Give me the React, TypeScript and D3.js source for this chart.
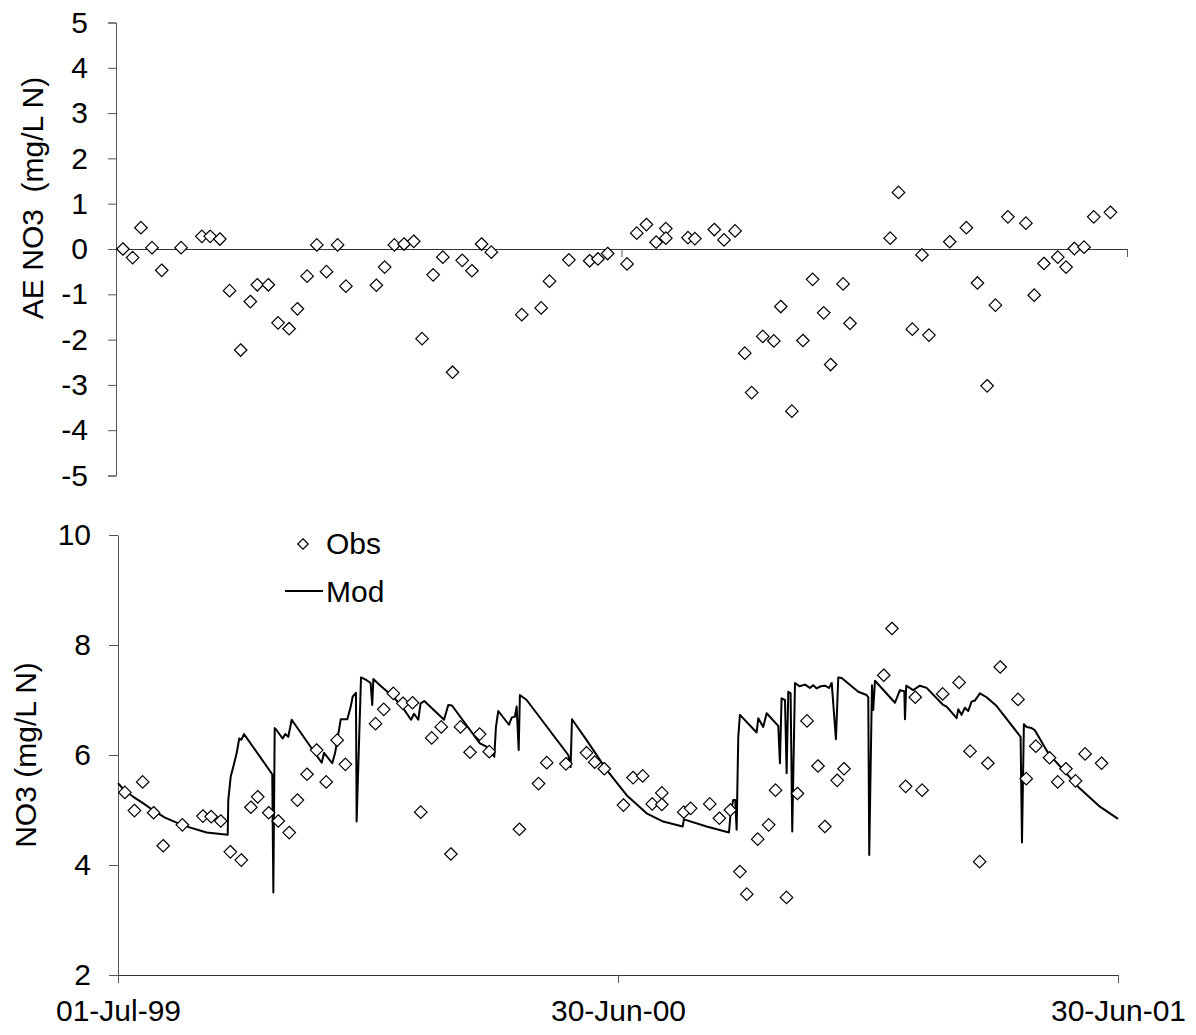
import React, { useRef, useEffect } from 'react';
import * as d3 from 'd3';

// observation dates, as days after 01-Jul-99
const OBS_DAY = [
  5, 12, 18, 26, 33, 47, 62, 68, 75, 82, 90, 97, 102, 110, 117, 125, 131, 138, 145, 152,
  160, 166, 188, 194, 201, 208, 215, 221, 229, 236, 243, 250, 257, 264, 271, 293, 307, 313, 327, 342,
  348, 355, 369, 376, 383, 390, 397, 397, 413, 418, 432, 439, 447, 454, 459, 467, 475, 480, 488, 496,
  503, 511, 516, 525, 530, 559, 565, 575, 582, 587, 602, 614, 622, 629, 635, 644, 657, 663, 670, 680,
  686, 692, 699, 706, 718,
];

// observed NO3 (mg/L N)
const OBS = [
  5.32, 4.99, 5.51, 4.95, 4.35, 4.73, 4.89, 4.88, 4.80, 4.24, 4.09, 5.05, 5.24, 4.95, 4.80, 4.59, 5.18, 5.65, 6.09, 5.51,
  6.27, 5.83, 6.57, 6.83, 7.12, 6.94, 6.95, 4.96, 6.31, 6.51, 4.20, 6.51, 6.05, 6.38, 6.06, 4.65, 5.48, 5.86, 5.84, 6.04,
  5.87, 5.75, 5.09, 5.59, 5.62, 5.11, 5.31, 5.10, 4.96, 5.03, 5.11, 4.85, 5.00, 3.88, 3.47, 4.47, 4.73, 5.36, 3.41, 5.30,
  6.62, 5.80, 4.70, 5.54, 5.75, 7.45, 8.30, 5.43, 7.05, 5.36, 7.11, 7.32, 6.07, 4.06, 5.85, 7.60, 7.01, 5.57, 6.16, 5.95,
  5.51, 5.75, 5.53, 6.02, 5.85,
];

// absolute error (obs - mod)
const AE = [
  0.00, -0.19, 0.47, 0.03, -0.47, 0.03, 0.28, 0.28, 0.22, -0.92, -2.23, -1.16, -0.79, -0.79, -1.63, -1.76, -1.32, -0.60, 0.09, -0.50,
  0.09, -0.82, -0.80, -0.40, 0.09, 0.11, 0.17, -1.98, -0.57, -0.18, -2.72, -0.25, -0.48, 0.11, -0.07, -1.45, -1.30, -0.71, -0.24, -0.26,
  -0.22, -0.10, -0.33, 0.35, 0.54, 0.15, 0.45, 0.24, 0.25, 0.23, 0.43, 0.20, 0.40, -2.30, -3.17, -1.93, -2.03, -1.27, -3.58, -2.02,
  -0.67, -1.41, -2.55, -0.77, -1.64, 0.24, 1.25, -1.77, -0.13, -1.90, 0.16, 0.47, -0.75, -3.02, -1.24, 0.71, 0.57, -1.02, -0.32, -0.18,
  -0.40, 0.01, 0.04, 0.71, 0.81,
];

// modelled NO3 vertices
const MOD_DAY = [
  0, 4.9, 11.2, 18.5, 25.9, 34.3, 47.4, 64.7, 80.1, 80.5, 82.3, 84.2, 86.6, 88.5, 90.1, 92,
  112.6, 113.4, 114.4, 115.8, 120.2, 122.1, 124.3, 126.8, 148.7, 150.4, 156.4, 158.4, 160.1, 162.6, 167.4, 169.9,
  171.3, 173.7, 174.2, 177.4, 181.5, 184.4, 185.6, 186.4, 191.2, 200.9, 208.2, 213.9, 216.1, 219.2, 220.9, 223.6,
  236.3, 238, 241.1, 243.8, 264.2, 269.1, 274.7, 275.9, 277.6, 285.4, 287.4, 289.8, 291, 292.5, 293.4, 298.3,
  328.7, 330.4, 331.4, 342.1, 356.7, 371.3, 385.9, 398, 412.2, 413.1, 429.7, 446, 447.2, 449.1, 450.6, 451.6,
  452.8, 454, 466.2, 467.4, 471, 473.5, 482, 483.2, 484.4, 486.9, 488.1, 489.3, 491, 492.2, 494.2, 497.5,
  501.5, 505.1, 507.5, 510, 513, 516.1, 519, 521, 524.1, 525.8, 528.3, 540.4, 546.5, 547.7, 548.4, 550.4,
  551.3, 552.6, 567.2, 570.8, 574, 574.5, 575.4, 580.5, 585.4, 590.3, 602.4, 604.9, 612.2, 613.4, 615.8, 618.2,
  620.7, 623.1, 625.5, 629.2, 634.1, 641.4, 651.1, 658.9, 659.9, 661.3, 663.3, 666.9, 669.3, 679.1, 690, 702.2,
  716.8, 730,
];
const MOD = [
  5.49, 5.35, 5.24, 5.12, 4.99, 4.86, 4.72, 4.59, 4.55, 5.18, 5.61, 5.79, 6.03, 6.30, 6.28, 6.38,
  5.65, 3.50, 6.49, 6.45, 6.30, 6.38, 6.33, 6.64, 5.86, 6.04, 5.85, 6.03, 6.27, 6.65, 6.65, 6.88,
  7.06, 7.13, 4.79, 7.41, 7.36, 7.31, 6.91, 7.38, 7.27, 7.06, 6.85, 6.64, 6.75, 6.64, 6.94, 6.98,
  6.68, 6.64, 6.91, 6.90, 6.21, 6.15, 5.97, 6.51, 6.80, 6.55, 6.68, 6.70, 6.88, 6.09, 7.09, 7.00,
  6.00, 5.78, 6.65, 6.27, 5.73, 5.27, 4.94, 4.79, 4.70, 4.83, 4.70, 4.59, 4.94, 5.18, 5.18, 4.64,
  6.33, 6.73, 6.41, 6.67, 6.51, 6.76, 6.53, 5.85, 7.03, 7.00, 5.67, 7.15, 7.12, 4.61, 7.31, 7.25,
  7.28, 7.22, 7.27, 7.21, 7.25, 7.26, 7.22, 7.31, 6.29, 7.41, 7.40, 7.15, 7.09, 7.05, 4.18, 7.27,
  6.82, 7.35, 6.95, 7.18, 7.16, 6.65, 7.26, 7.18, 7.26, 7.22, 6.91, 6.88, 6.67, 6.83, 6.73, 6.86,
  6.80, 6.97, 6.99, 7.12, 7.05, 6.89, 6.58, 6.33, 4.41, 6.56, 6.51, 6.49, 6.45, 6.03, 5.73, 5.39,
  5.06, 4.84,
];

const AE_TICKS = [-5, -4, -3, -2, -1, 0, 1, 2, 3, 4, 5];
const NO3_TICKS = [2, 4, 6, 8, 10];
const DATE_TICKS = ['1999-07-01', '2000-06-30', '2001-06-30'];

const FONT = '"Liberation Sans", Arial, sans-serif';
const FS = '30px';
const AXIS = '#555';

export default function App() {
  const ref = useRef<SVGSVGElement | null>(null);

  useEffect(() => {
    const svg = d3.select(ref.current);
    svg.selectAll('*').remove();

    const start = new Date(Date.UTC(1999, 6, 1));
    const day = (d: number) => new Date(start.getTime() + d * 864e5);
    const tickDates = DATE_TICKS.map(s => new Date(s + 'T00:00:00Z'));
    const fmt = d3.utcFormat('%d-%b-%y');

    const diamond = d3.symbol().type(d3.symbolDiamond2).size(100);

    // ── Top panel: AE NO3 ───────────────────────────────────────────
    const xTop = d3.scaleUtc().domain([start, tickDates[2]]).range([116, 1127]);
    const yTop = d3.scaleLinear().domain([-5, 5]).range([475.5, 22.5]);

    const gTop = svg.append('g');

    gTop.append('g')
      .attr('transform', `translate(116,0)`)
      .call(d3.axisLeft(yTop).tickValues(AE_TICKS).tickSize(8).tickPadding(20).tickFormat(d => String(d)))
      .call(ax => ax.select('.domain').attr('stroke', AXIS))
      .call(ax => ax.selectAll('.tick line').attr('stroke', AXIS))
      .call(ax => ax.selectAll('.tick text')
        .attr('fill', '#000').attr('font-size', FS).attr('font-family', FONT));

    gTop.append('g')
      .attr('transform', `translate(0,${yTop(0)})`)
      .call(d3.axisBottom(xTop).tickValues(tickDates).tickSize(8).tickSizeOuter(0).tickFormat(() => ''))
      .call(ax => ax.select('.domain').attr('stroke', '#333'))
      .call(ax => ax.selectAll('.tick line').attr('stroke', AXIS));

    gTop.append('text')
      .attr('transform', `translate(32,198) rotate(-90)`)
      .attr('text-anchor', 'middle')
      .attr('dominant-baseline', 'central')
      .attr('font-size', FS)
      .attr('font-family', FONT)
      .style('white-space', 'pre')
      .text('AE NO3  (mg/L N)');

    gTop.selectAll('path.ae')
      .data(OBS_DAY.map((d, i) => [d, AE[i]]))
      .join('path')
      .attr('class', 'ae')
      .attr('d', diamond)
      .attr('transform', d => `translate(${xTop(day(d[0]))},${yTop(d[1])})`)
      .attr('fill', '#fff')
      .attr('stroke', '#000')
      .attr('stroke-width', 1.2);

    // ── Bottom panel: NO3 ───────────────────────────────────────────
    const xBot = d3.scaleUtc().domain([start, tickDates[2]]).range([118, 1118]);
    const yBot = d3.scaleLinear().domain([2, 10]).range([975, 535]);

    const gBot = svg.append('g');

    gBot.append('g')
      .attr('transform', `translate(118,0)`)
      .call(d3.axisLeft(yBot).tickValues(NO3_TICKS).tickSize(9).tickPadding(18).tickSizeOuter(0))
      .call(ax => ax.select('.domain').attr('stroke', AXIS))
      .call(ax => ax.selectAll('.tick line').attr('stroke', AXIS))
      .call(ax => ax.selectAll('.tick text')
        .attr('fill', '#000').attr('font-size', FS).attr('font-family', FONT));

    gBot.append('g')
      .attr('transform', `translate(0,975)`)
      .call(d3.axisBottom(xBot).tickValues(tickDates).tickSize(8).tickSizeOuter(0).tickPadding(17).tickFormat(d => fmt(d as Date)))
      .call(ax => ax.select('.domain').attr('stroke', '#333'))
      .call(ax => ax.selectAll('.tick line').attr('stroke', AXIS))
      .call(ax => ax.selectAll('.tick text')
        .attr('fill', '#000').attr('font-size', FS).attr('font-family', FONT));

    gBot.append('text')
      .attr('transform', `translate(25,755) rotate(-90)`)
      .attr('text-anchor', 'middle')
      .attr('dominant-baseline', 'central')
      .attr('font-size', FS)
      .attr('font-family', FONT)
      .text('NO3 (mg/L N)');

    const line = d3.line<number>()
      .x((d, i) => xBot(day(MOD_DAY[i])))
      .y(d => yBot(d));

    gBot.append('path')
      .datum(MOD)
      .attr('d', line)
      .attr('fill', 'none')
      .attr('stroke', '#000')
      .attr('stroke-width', 2)
      .attr('stroke-linejoin', 'round');

    gBot.selectAll('path.obs')
      .data(OBS_DAY.map((d, i) => [d, OBS[i]]))
      .join('path')
      .attr('class', 'obs')
      .attr('d', diamond)
      .attr('transform', d => `translate(${xBot(day(d[0]))},${yBot(d[1])})`)
      .attr('fill', '#fff')
      .attr('stroke', '#000')
      .attr('stroke-width', 1.2);

    // ── Legend ──────────────────────────────────────────────────────
    const lg = svg.append('g');
    lg.append('path')
      .attr('d', d3.symbol().type(d3.symbolDiamond2).size(70))
      .attr('transform', 'translate(303,544)')
      .attr('fill', '#fff').attr('stroke', '#000').attr('stroke-width', 1.2);
    lg.append('text')
      .attr('x', 326).attr('y', 543)
      .attr('dominant-baseline', 'central')
      .attr('font-size', FS).attr('font-family', FONT)
      .text('Obs');
    lg.append('line')
      .attr('x1', 285).attr('x2', 323).attr('y1', 591).attr('y2', 591)
      .attr('stroke', '#000').attr('stroke-width', 2);
    lg.append('text')
      .attr('x', 326).attr('y', 591)
      .attr('dominant-baseline', 'central')
      .attr('font-size', FS).attr('font-family', FONT)
      .text('Mod');
  }, []);

  return (
    <svg
      ref={ref}
      width={1196}
      height={1035}
      style={{ position: 'absolute', left: 0, top: 0, background: '#fff' }}
    />
  );
}
